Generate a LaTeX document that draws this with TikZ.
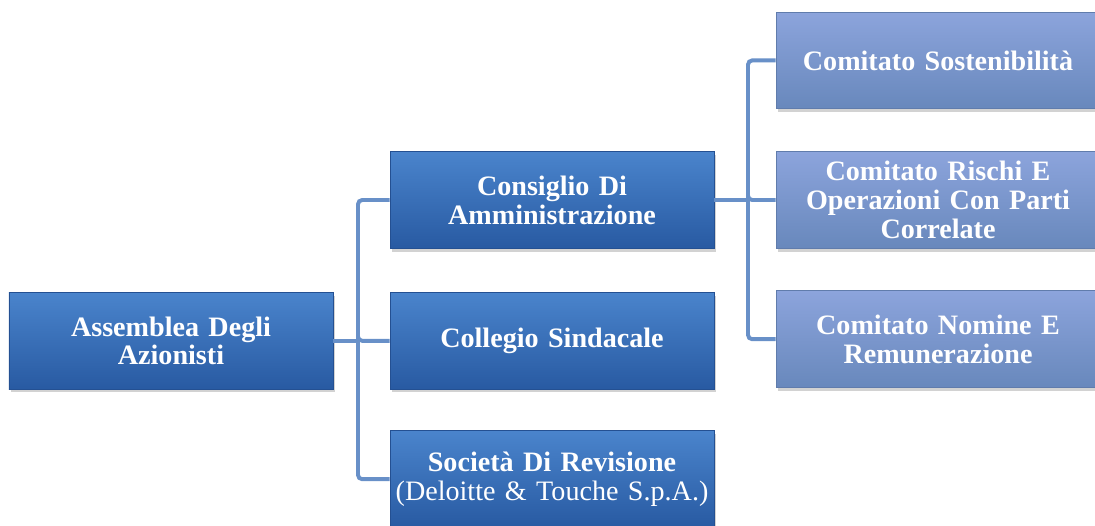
\documentclass[tikz,border=0pt]{standalone}
\usepackage{fontspec}
\setmainfont{Liberation Serif}
\usepackage{tikz}
\usetikzlibrary{shadows}

\definecolor{darktop}{RGB}{74,132,204}
\definecolor{darkbot}{RGB}{40,90,162}
\definecolor{darkline}{RGB}{36,80,146}
\definecolor{lighttop}{RGB}{140,164,220}
\definecolor{lightbot}{RGB}{104,136,188}
\definecolor{lightline}{RGB}{96,124,172}
\definecolor{linkcol}{RGB}{104,144,200}

\tikzset{
  box/.style={rectangle, minimum width=8.1cm, minimum height=2.42cm,
    inner xsep=0pt, text width=8.1cm, align=center, text=white,
    font=\fontsize{20}{20.5}\selectfont\bfseries,
    drop shadow={shadow xshift=0.06cm, shadow yshift=-0.08cm, opacity=0.35}},
  dark/.style={box, top color=darktop, bottom color=darkbot, draw=darkline, line width=0.6pt},
  light/.style={box, top color=lighttop, bottom color=lightbot, draw=lightline, line width=0.6pt},
  link/.style={draw=linkcol, line width=2.8pt, rounded corners=3pt},
  elbow/.style={to path={|- (\tikztotarget)}}
}

\begin{document}
\begin{tikzpicture}
\clip (0,0) rectangle (27.375,-13.125);
\fill[white] (0,0) rectangle (27.375,-13.125);

% bus points
\coordinate (busA) at (8.95,-8.52);
\coordinate (busB) at (18.7,-5.0);

\node (asse) at (4.275,-8.52) [dark] {Assemblea Degli\\ Azionisti};
\node (cons) at (13.8,-5.0)   [dark] {Consiglio Di\\ Amministrazione};
\node (coll) at (13.8,-8.52)  [dark] {Collegio Sindacale};
\node (soci) at (13.8,-11.98) [dark] {Società Di Revisione\\ {\mdseries (Deloitte \& Touche S.p.A.)}};

\node (sost) at (23.45,-1.51) [light] {Comitato Sostenibilità};
\node (risc) at (23.45,-5.0)  [light] {Comitato Rischi E\\ Operazioni Con Parti\\ Correlate};
\node (nomi) at (23.45,-8.48) [light] {Comitato Nomine E\\ Remunerazione};

\path (asse.east) edge[link] (busA);
\path (busA) edge[link, elbow] (cons.west);
\path (busA) edge[link, elbow] (coll.west);
\path (busA) edge[link, elbow] (soci.west);

\path (cons.east) edge[link] (busB);
\path (busB) edge[link, elbow] (sost.west);
\path (busB) edge[link, elbow] (risc.west);
\path (busB) edge[link, elbow] (nomi.west);
\end{tikzpicture}
\end{document}
